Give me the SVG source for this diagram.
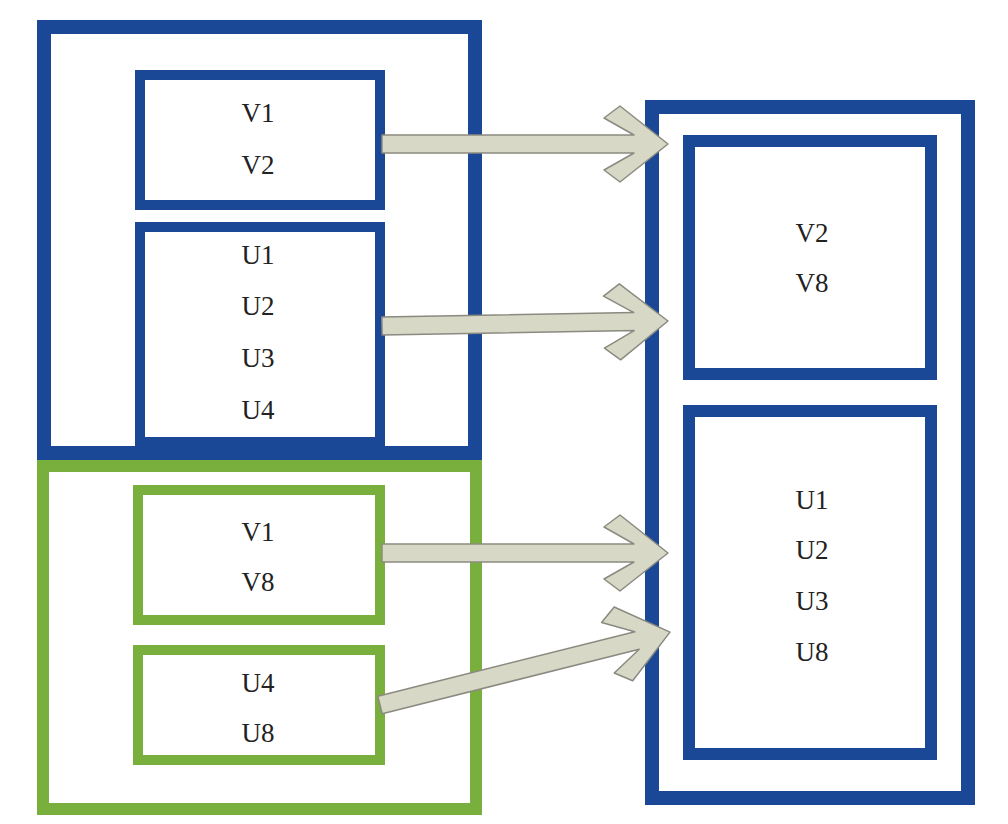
<svg xmlns="http://www.w3.org/2000/svg" width="1008" height="824" viewBox="0 0 1008 824">
<style>
.b{fill:none;stroke:#1a4796}
.g{fill:none;stroke:#79b03d}
text{font-family:"Liberation Serif",serif;font-size:27px;fill:#222;text-anchor:middle}
.a{fill:#d8d8c6;stroke:#8a8a80;stroke-width:1.5;stroke-linejoin:round}
</style>
<rect width="1008" height="824" fill="#fff"/>
<g id="left-blue"><rect class="b" x="44" y="27" width="431" height="426" stroke-width="14"/></g>
<g id="box-v1v2"><rect class="b" x="140" y="75" width="240" height="130" stroke-width="10"/><text x="258" y="122">V1</text><text x="258" y="174">V2</text></g>
<g id="box-u1u4"><rect class="b" x="140" y="227" width="240" height="215" stroke-width="10"/><text x="258" y="264">U1</text><text x="258" y="315">U2</text><text x="258" y="367">U3</text><text x="258" y="419">U4</text></g>
<g id="left-green"><rect class="g" x="43" y="466" width="433" height="343" stroke-width="12"/></g>
<g id="box-v1v8"><rect class="g" x="138" y="490" width="242" height="130" stroke-width="10"/><text x="258" y="541">V1</text><text x="258" y="591">V8</text></g>
<g id="box-u4u8"><rect class="g" x="138" y="650" width="242" height="110" stroke-width="10"/><text x="258" y="692">U4</text><text x="258" y="742">U8</text></g>
<g id="right-blue"><rect class="b" x="652" y="107" width="316" height="691" stroke-width="14"/></g>
<g id="box-v2v8"><rect class="b" x="689" y="141" width="242" height="233" stroke-width="12"/><text x="812" y="242">V2</text><text x="812" y="292">V8</text></g>
<g id="box-u1u8"><rect class="b" x="689" y="411" width="242" height="343" stroke-width="12"/><text x="812" y="509">U1</text><text x="812" y="559">U2</text><text x="812" y="610">U3</text><text x="812" y="661">U8</text></g>
<g id="connectors">
<polygon class="a" transform="translate(382,144)" points="0,-9 252,-9 222,-26 238,-38 286,0 238,38 222,26 252,9 0,9"/>
<polygon class="a" transform="translate(382,326) rotate(-1)" points="0,-9 252,-9 222,-26 238,-38 286,0 238,38 222,26 252,9 0,9"/>
<polygon class="a" transform="translate(382,553)" points="0,-9 252,-9 222,-26 238,-38 286,0 238,38 222,26 252,9 0,9"/>
<polygon class="a" transform="translate(380,705) rotate(-14.1)" points="0,-9 265,-9 235,-26 251,-38 299,0 251,38 235,26 265,9 0,9"/>
</g>
</svg>
